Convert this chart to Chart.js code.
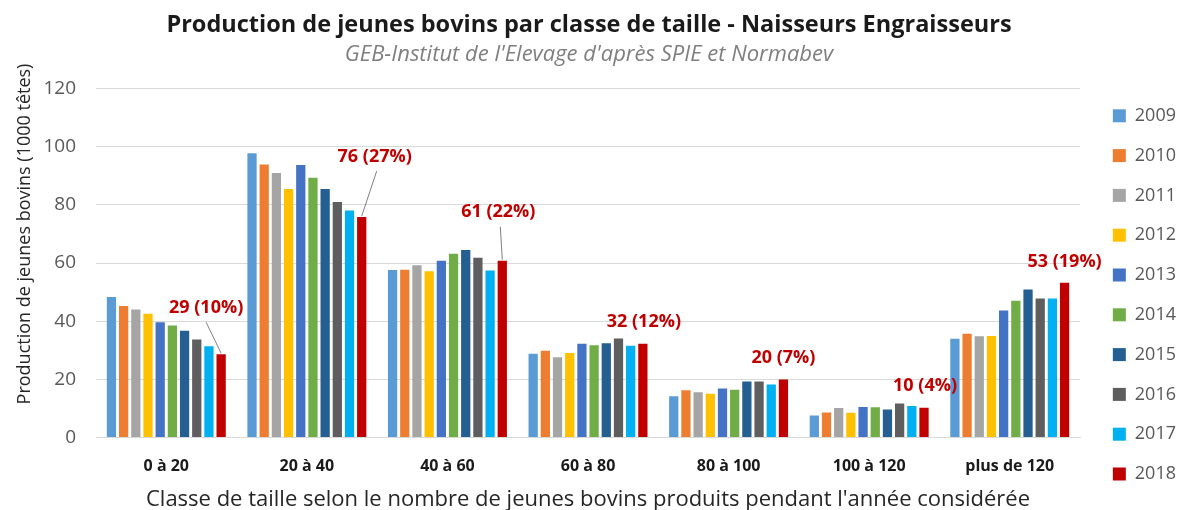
<!DOCTYPE html>
<html lang="fr">
<head>
<meta charset="utf-8">
<title>Production de jeunes bovins par classe de taille</title>
<script src="https://cdn.jsdelivr.net/npm/chart.js@4.4.1/dist/chart.umd.min.js"></script>
<style>
    html, body { margin: 0; padding: 0; background: #ffffff; }
    #wrap { width: 1178px; height: 510px; position: relative; }
</style>
</head>
<body>
<div id="wrap"><canvas id="chart"></canvas></div>
<script>
// Size classes (x axis)
const categories = ['0 à 20', '20 à 40', '40 à 60', '60 à 80', '80 à 100', '100 à 120', 'plus de 120'];

// Production per year, 1000 head
const v2009 = [48.3, 97.8, 57.6, 28.8, 14.2, 7.5, 33.9];
const v2010 = [45.2, 93.9, 57.7, 29.8, 16.2, 8.6, 35.7];
const v2011 = [44.0, 91.0, 59.2, 27.6, 15.5, 10.1, 34.8];
const v2012 = [42.5, 85.5, 57.2, 29.0, 15.0, 8.5, 34.9];
const v2013 = [39.6, 93.7, 60.8, 32.2, 16.8, 10.5, 43.7];
const v2014 = [38.5, 89.3, 63.2, 31.7, 16.4, 10.4, 47.0];
const v2015 = [36.7, 85.5, 64.5, 32.4, 19.2, 9.6, 50.9];
const v2016 = [33.7, 81.0, 61.8, 34.0, 19.2, 11.7, 47.8];
const v2017 = [31.4, 78.1, 57.4, 31.5, 18.2, 10.8, 47.8];
const v2018 = [28.6, 75.8, 60.8, 32.2, 19.9, 10.2, 53.2];

// Share of 2018 production per class (%)
const share2018 = [10, 27, 22, 12, 7, 4, 19];

const years = ['2009', '2010', '2011', '2012', '2013', '2014', '2015', '2016', '2017', '2018'];
const yearValues = [v2009, v2010, v2011, v2012, v2013, v2014, v2015, v2016, v2017, v2018];
const yearColors = ['#5B9BD5', '#ED7D31', '#A5A5A5', '#FFC000', '#4472C4',
                    '#70AD47', '#255E91', '#5E5E5E', '#00B0F0', '#C00000'];

// y axis ticks
const yTicks = [0, 20, 40, 60, 80, 100, 120];

// Annotation placement for 2018 labels: text offset and optional leader line start (px from bar top)
const labelOffsets = [
    { dx: -15, dy: -46, lx: -15, ly: -32 },
    { dx: 13, dy: -60, lx: 15, ly: -46 },
    { dx: -4, dy: -49, lx: -2, ly: -34 },
    { dx: 1, dy: -22 },
    { dx: 0, dy: -22 },
    { dx: 1, dy: -22 },
    { dx: 0, dy: -21 }
];

const FONT = "'Open Sans', 'Noto Sans', sans-serif";

// Draws the red "value (share%)" notes above the 2018 bars
const labels2018 = {
    id: 'labels2018',
    afterDatasetsDraw(chart) {
        const ctx = chart.ctx;
        const meta = chart.getDatasetMeta(years.length - 1);
        ctx.save();
        meta.data.forEach((bar, i) => {
            const off = labelOffsets[i];
            if (off.lx !== undefined) {
                ctx.strokeStyle = '#7F7F7F';
                ctx.lineWidth = 1;
                ctx.beginPath();
                ctx.moveTo(bar.x + off.lx, bar.y + off.ly);
                ctx.lineTo(bar.x, bar.y - 1);
                ctx.stroke();
            }
            ctx.font = 'bold 18px ' + FONT;
            ctx.fillStyle = '#C00000';
            ctx.textAlign = 'center';
            ctx.textBaseline = 'middle';
            const text = Math.round(v2018[i]) + ' (' + share2018[i] + '%)';
            ctx.fillText(text, bar.x + off.dx, bar.y + off.dy);
        });
        ctx.restore();
    },
    afterDraw(chart) {
        // y axis title, placed like the original
        const ctx = chart.ctx;
        ctx.save();
        ctx.translate(25, 234);
        ctx.rotate(-Math.PI / 2);
        ctx.font = '18px ' + FONT;
        ctx.fillStyle = '#262626';
        ctx.textAlign = 'center';
        ctx.textBaseline = 'middle';
        ctx.fillText('Production de jeunes bovins (1000 têtes)', 0, 0);
        ctx.restore();
    }
};

const ctx = document.getElementById('chart').getContext('2d');

new Chart(ctx, {
    type: 'bar',
    data: {
        labels: categories,
        datasets: years.map((y, i) => ({
            label: y,
            data: yearValues[i],
            backgroundColor: yearColors[i],
            borderWidth: 0,
            categoryPercentage: 0.867,
            barPercentage: 0.76
        }))
    },
    options: {
        responsive: true,
        maintainAspectRatio: false,
        animation: false,
        layout: {
            padding: { top: 11, left: -8, right: -8, bottom: -3 }
        },
        plugins: {
            title: {
                display: true,
                text: 'Production de jeunes bovins par classe de taille - Naisseurs Engraisseurs',
                color: '#1A1A1A',
                font: { family: FONT, size: 23.5, weight: 'bold' },
                padding: { top: 0, bottom: 2 }
            },
            subtitle: {
                display: true,
                text: "GEB-Institut de l'Elevage d'après SPIE et Normabev",
                color: '#7F7F7F',
                font: { family: FONT, size: 22, style: 'italic' },
                padding: { top: 0, bottom: 21 }
            },
            legend: {
                position: 'right',
                align: 'start',
                title: {
                    display: true,
                    text: '',
                    font: { size: 10 },
                    padding: { top: 62, bottom: 0 }
                },
                labels: {
                    boxWidth: 13,
                    boxHeight: 13,
                    padding: 21.8,
                    color: '#595959',
                    font: { family: FONT, size: 18 }
                }
            },
            tooltip: { enabled: false }
        },
        scales: {
            x: {
                grid: { display: false },
                border: { color: '#D9D9D9' },
                ticks: {
                    color: '#1A1A1A',
                    font: { family: FONT, size: 16, weight: 'bold' },
                    padding: 11
                },
                title: {
                    display: true,
                    text: "Classe de taille selon le nombre de jeunes bovins produits pendant l'année considérée",
                    color: '#262626',
                    font: { family: FONT, size: 22 },
                    padding: { top: 0, bottom: 0 }
                }
            },
            y: {
                min: 0,
                max: yTicks[yTicks.length - 1],
                afterBuildTicks(scale) {
                    scale.ticks = yTicks.map(v => ({ value: v }));
                },
                afterFit(scale) {
                    scale.width = 104;
                },
                grid: { color: '#D9D9D9', drawTicks: false },
                border: { display: false },
                ticks: {
                    color: '#595959',
                    font: { family: FONT, size: 19 },
                    padding: 20
                }
            },
            // empty axis that only keeps a gap between plot and legend
            gap: {
                type: 'linear',
                position: 'right',
                afterFit(scale) {
                    scale.width = 11;
                },
                grid: { display: false, drawTicks: false },
                border: { display: false },
                ticks: { display: false }
            }
        }
    },
    plugins: [labels2018]
});
</script>
</body>
</html>
